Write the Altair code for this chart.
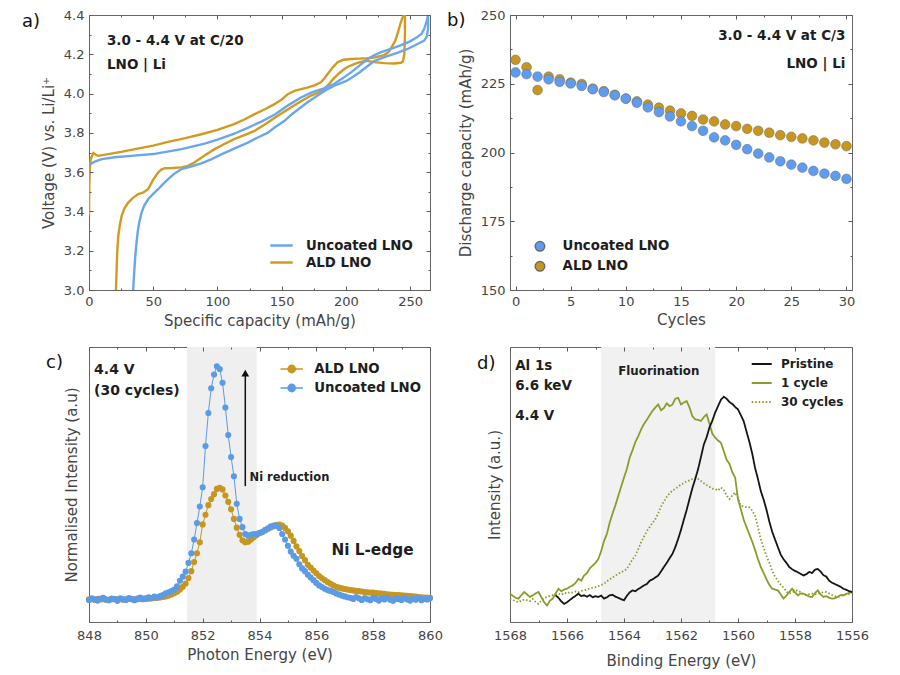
import altair as alt
import pandas as pd

FONT = "DejaVu Sans"
TXT = "#1e1e1e"
LAB = "#454545"
TICKC = "#5a5a5a"

BLUE_A, GOLD_A = "#6aa6ee", "#d29b1f"
BLUE_B, GOLD_B = "#5d9cf0", "#c8951d"
BLUE_C, GOLD_C = "#5b9be6", "#c8961f"
BLACK_D, OLIVE_D = "#151515", "#8d9b2a"

# ---------------- panel a: voltage profiles ----------------
A_SERIES = ["Uncoated LNO", "ALD LNO"]
UC_CAP = [0, 2, 5, 10, 20, 35, 50, 72, 90, 100, 112, 124, 135, 145, 155, 165, 173, 181, 191, 198,
          204, 211, 217, 222, 227, 235, 243, 250, 255, 259, 261, 263, 264]
UC_V = [3.632, 3.645, 3.655, 3.666, 3.676, 3.684, 3.692, 3.717, 3.745, 3.765, 3.793, 3.827, 3.860,
        3.895, 3.940, 3.980, 4.005, 4.022, 4.050, 4.080, 4.108, 4.145, 4.176, 4.195, 4.210, 4.228,
        4.247, 4.266, 4.285, 4.305, 4.330, 4.370, 4.400]
UD_CAP = [264, 264, 263, 261, 255, 248, 240, 230, 222, 217, 211, 206.5, 200, 191, 185, 178, 171, 165,
          158, 152, 145, 139, 131, 123.7, 113, 103, 95, 87.5, 80, 72, 66, 61.6, 57, 53.8, 50, 46, 43,
          40.9, 39, 38, 37, 36, 35.3, 34.8, 34.4]
UD_V = [4.400, 4.330, 4.290, 4.270, 4.250, 4.227, 4.207, 4.186, 4.165, 4.140, 4.110, 4.090, 4.063,
        4.040, 4.020, 3.990, 3.960, 3.930, 3.895, 3.860, 3.830, 3.800, 3.775, 3.750, 3.720, 3.690,
        3.665, 3.645, 3.630, 3.615, 3.590, 3.564, 3.535, 3.513, 3.490, 3.462, 3.430, 3.394, 3.340,
        3.300, 3.240, 3.170, 3.100, 3.050, 3.000]
AC_CAP = [0, 0.3, 0.8, 1.5, 3.4, 5, 7.2, 15, 25, 35.7, 50, 61.6, 75, 87.5, 100, 113, 121, 128.9, 137,
          144.4, 150, 154.8, 160, 165, 170, 176, 180.6, 183, 185.8, 190, 193.6, 198, 204, 210, 216.9,
          223, 229.8, 233, 236, 238.5, 240.5, 242.8, 244, 245.3]
AC_V = [3.38, 3.55, 3.64, 3.67, 3.697, 3.690, 3.683, 3.692, 3.703, 3.717, 3.735, 3.754, 3.773, 3.793,
        3.815, 3.844, 3.868, 3.895, 3.920, 3.946, 3.970, 3.997, 4.014, 4.023, 4.030, 4.043, 4.057,
        4.075, 4.100, 4.135, 4.160, 4.172, 4.176, 4.178, 4.180, 4.185, 4.196, 4.210, 4.240, 4.270,
        4.310, 4.363, 4.385, 4.400]
AD_CAP = [246, 246, 245.5, 244.5, 243, 237.6, 230, 222, 216, 211, 206.5, 202, 198.8, 195, 191, 187,
          183, 178, 172.9, 166, 160, 153, 147, 138, 128.9, 121, 113, 105, 97.8, 90, 82, 77, 72, 65,
          59, 56, 53.8, 50, 46, 42, 38.3, 34, 30.5, 27.5, 25.4, 24, 22.8, 22, 21.5, 21]
AD_V = [4.400, 4.300, 4.200, 4.165, 4.157, 4.153, 4.155, 4.160, 4.167, 4.160, 4.150, 4.138, 4.125,
        4.105, 4.080, 4.050, 4.020, 4.003, 3.990, 3.965, 3.940, 3.912, 3.887, 3.848, 3.810, 3.788,
        3.768, 3.742, 3.717, 3.685, 3.649, 3.632, 3.624, 3.621, 3.620, 3.612, 3.598, 3.562, 3.513,
        3.495, 3.488, 3.468, 3.445, 3.415, 3.377, 3.330, 3.275, 3.200, 3.100, 3.000]

# ---------------- panel b: cycling ----------------
B_SERIES = ["Uncoated LNO", "ALD LNO"]
B_CYC = [0, 1, 2, 3, 4, 5, 6, 7, 8, 9, 10, 11, 12, 13, 14, 15, 16, 17, 18, 19, 20, 21, 22, 23, 24,
         25, 26, 27, 28, 29, 30]
B_UNC = [229.1, 228.5, 227.6, 226.6, 225.7, 225.1, 224.2, 223.0, 222.0, 220.8, 219.6, 218.1, 216.4,
         214.7, 213.1, 211.3, 209.6, 207.9, 205.5, 204.4, 202.8, 201.2, 199.6, 198.2, 196.8, 195.6,
         194.5, 193.3, 192.3, 191.5, 190.4]
B_ALD = [233.7, 231.0, 222.7, 227.6, 226.6, 225.4, 224.9, 223.2, 222.3, 221.0, 219.6, 218.6, 217.4,
         216.3, 215.2, 214.2, 213.3, 212.0, 211.3, 210.2, 209.6, 208.6, 207.9, 207.2, 206.3, 205.7,
         205.1, 204.4, 203.6, 203.0, 202.3]

# ---------------- panel c: Ni L-edge ----------------
C_SERIES = ["ALD LNO", "Uncoated LNO"]
C_E = [848.0, 848.1, 848.2, 848.3, 848.4, 848.5, 848.6, 848.7, 848.8, 848.9,
       849.0, 849.1, 849.2, 849.3, 849.4, 849.5, 849.6, 849.7, 849.8, 849.9,
       850.0, 850.1, 850.2, 850.3, 850.4, 850.5, 850.6, 850.7, 850.8, 850.9,
       851.0, 851.1, 851.2, 851.3, 851.4, 851.5, 851.6, 851.7, 851.8, 851.9,
       852.0, 852.1, 852.2, 852.3, 852.4, 852.5, 852.6, 852.7, 852.8, 852.9,
       853.0, 853.1, 853.2, 853.3, 853.4, 853.5, 853.6, 853.7, 853.8, 853.9,
       854.0, 854.1, 854.2, 854.3, 854.4, 854.5, 854.6, 854.7, 854.8, 854.9,
       855.0, 855.1, 855.2, 855.3, 855.4, 855.5, 855.6, 855.7, 855.8, 855.9,
       856.0, 856.1, 856.2, 856.3, 856.4, 856.5, 856.6, 856.7, 856.8, 856.9,
       857.0, 857.1, 857.2, 857.3, 857.4, 857.5, 857.6, 857.7, 857.8, 857.9,
       858.0, 858.1, 858.2, 858.3, 858.4, 858.5, 858.6, 858.7, 858.8, 858.9,
       859.0, 859.1, 859.2, 859.3, 859.4, 859.5, 859.6, 859.7, 859.8, 859.9,
       860.0]
C_UNC = [0.080, 0.086, 0.082, 0.078, 0.084, 0.088, 0.081, 0.079, 0.085, 0.083,
         0.077, 0.086, 0.082, 0.080, 0.087, 0.084, 0.079, 0.085, 0.089, 0.083,
         0.086, 0.090, 0.087, 0.092, 0.089, 0.094, 0.098, 0.104, 0.108, 0.112,
         0.118, 0.130, 0.150, 0.165, 0.183, 0.215, 0.250, 0.300, 0.360, 0.420,
         0.490, 0.640, 0.760, 0.850, 0.900, 0.930, 0.920, 0.870, 0.780, 0.680,
         0.600, 0.530, 0.430, 0.375, 0.345, 0.320, 0.314, 0.317, 0.320, 0.320,
         0.324, 0.327, 0.334, 0.341, 0.348, 0.351, 0.350, 0.342, 0.320, 0.300,
         0.277, 0.256, 0.241, 0.230, 0.210, 0.195, 0.185, 0.172, 0.162, 0.152,
         0.142, 0.133, 0.127, 0.121, 0.116, 0.113, 0.109, 0.104, 0.100, 0.096,
         0.093, 0.090, 0.088, 0.084, 0.091, 0.086, 0.080, 0.087, 0.083, 0.079,
         0.088, 0.084, 0.078, 0.086, 0.082, 0.089, 0.081, 0.077, 0.085, 0.083,
         0.080, 0.087, 0.082, 0.078, 0.085, 0.081, 0.088, 0.079, 0.084, 0.082,
         0.086]
C_ALD = [0.082, 0.083, 0.081, 0.084, 0.082, 0.083, 0.082, 0.081, 0.083, 0.084,
         0.082, 0.083, 0.081, 0.082, 0.084, 0.083, 0.082, 0.083, 0.084, 0.085,
         0.084, 0.085, 0.086, 0.087, 0.088, 0.089, 0.091, 0.093, 0.096, 0.100,
         0.105, 0.110, 0.118, 0.128, 0.140, 0.160, 0.185, 0.218, 0.250, 0.290,
         0.355, 0.390, 0.425, 0.447, 0.465, 0.484, 0.488, 0.482, 0.460, 0.437,
         0.410, 0.375, 0.343, 0.317, 0.297, 0.290, 0.292, 0.300, 0.308, 0.316,
         0.323, 0.328, 0.334, 0.339, 0.344, 0.348, 0.353, 0.354, 0.351, 0.342,
         0.330, 0.314, 0.295, 0.275, 0.258, 0.240, 0.225, 0.208, 0.198, 0.187,
         0.177, 0.167, 0.159, 0.152, 0.145, 0.139, 0.133, 0.128, 0.125, 0.122,
         0.120, 0.118, 0.116, 0.115, 0.113, 0.112, 0.111, 0.109, 0.108, 0.107,
         0.107, 0.105, 0.104, 0.103, 0.102, 0.101, 0.100, 0.099, 0.098, 0.098,
         0.097, 0.096, 0.095, 0.094, 0.093, 0.092, 0.091, 0.090, 0.089, 0.089,
         0.088]
C_SHADE = [851.45, 853.9]
C_ARROW = [853.5, 0.494, 0.905]

# ---------------- panel d: Al 1s ----------------
D_SERIES = ["Pristine", "1 cycle", "30 cycles"]
D_E = [1568.0, 1567.9, 1567.8, 1567.7, 1567.6, 1567.5, 1567.4, 1567.3, 1567.2, 1567.1,
       1567.0, 1566.9, 1566.8, 1566.7, 1566.6, 1566.5, 1566.4, 1566.3, 1566.2, 1566.1,
       1566.0, 1565.9, 1565.8, 1565.7, 1565.6, 1565.5, 1565.4, 1565.3, 1565.2, 1565.1,
       1565.0, 1564.9, 1564.8, 1564.7, 1564.6, 1564.5, 1564.4, 1564.3, 1564.2, 1564.1,
       1564.0, 1563.9, 1563.8, 1563.7, 1563.6, 1563.5, 1563.4, 1563.3, 1563.2, 1563.1,
       1563.0, 1562.9, 1562.8, 1562.7, 1562.6, 1562.5, 1562.4, 1562.3, 1562.2, 1562.1,
       1562.0, 1561.9, 1561.8, 1561.7, 1561.6, 1561.5, 1561.4, 1561.3, 1561.2, 1561.1,
       1561.0, 1560.9, 1560.8, 1560.7, 1560.6, 1560.5, 1560.4, 1560.3, 1560.2, 1560.1,
       1560.0, 1559.9, 1559.8, 1559.7, 1559.6, 1559.5, 1559.4, 1559.3, 1559.2, 1559.1,
       1559.0, 1558.9, 1558.8, 1558.7, 1558.6, 1558.5, 1558.4, 1558.3, 1558.2, 1558.1,
       1558.0, 1557.9, 1557.8, 1557.7, 1557.6, 1557.5, 1557.4, 1557.3, 1557.2, 1557.1,
       1557.0, 1556.9, 1556.8, 1556.7, 1556.6, 1556.5, 1556.4, 1556.3, 1556.2, 1556.1,
       1556.0]
D_PRI = [0.097, 0.088, 0.075, 0.066, 0.072, 0.080, 0.088, 0.095, 0.103, 0.094,
         0.097, 0.092, 0.098, 0.090, 0.094, 0.091, 0.096, 0.085, 0.090, 0.097,
         0.099, 0.092, 0.088, 0.083, 0.079, 0.095, 0.108, 0.115, 0.112, 0.120,
         0.126, 0.133, 0.138, 0.150, 0.155, 0.162, 0.169, 0.184, 0.200, 0.215,
         0.232, 0.248, 0.272, 0.302, 0.335, 0.372, 0.408, 0.448, 0.487, 0.520,
         0.556, 0.600, 0.645, 0.672, 0.708, 0.732, 0.762, 0.785, 0.808, 0.819,
         0.812, 0.800, 0.793, 0.782, 0.773, 0.752, 0.730, 0.692, 0.655, 0.612,
         0.560, 0.520, 0.476, 0.445, 0.408, 0.365, 0.328, 0.300, 0.272, 0.245,
         0.228, 0.215, 0.200, 0.192, 0.186, 0.181, 0.175, 0.169, 0.174, 0.182,
         0.178, 0.190, 0.193, 0.183, 0.170, 0.165, 0.150, 0.143, 0.138, 0.133,
         0.128, 0.121, 0.117, 0.112, 0.109]
D_1CY = [0.103, 0.095, 0.088, 0.085, 0.098, 0.109, 0.100, 0.091, 0.097, 0.104,
         0.109, 0.090, 0.072, 0.060, 0.078, 0.085, 0.104, 0.121, 0.112, 0.118,
         0.121, 0.128, 0.133, 0.142, 0.157, 0.150, 0.169, 0.178, 0.195, 0.205,
         0.215, 0.229, 0.258, 0.295, 0.320, 0.362, 0.395, 0.425, 0.459, 0.492,
         0.525, 0.556, 0.598, 0.625, 0.655, 0.676, 0.700, 0.720, 0.735, 0.752,
         0.768, 0.780, 0.791, 0.770, 0.778, 0.795, 0.785, 0.791, 0.812, 0.815,
         0.791, 0.798, 0.803, 0.780, 0.748, 0.737, 0.735, 0.731, 0.745, 0.755,
         0.720, 0.685, 0.670, 0.660, 0.652, 0.622, 0.590, 0.575, 0.545, 0.525,
         0.447, 0.410, 0.372, 0.345, 0.318, 0.292, 0.262, 0.229, 0.200, 0.178,
         0.155, 0.135, 0.121, 0.118, 0.115, 0.100, 0.085, 0.096, 0.110, 0.121,
         0.108, 0.097, 0.104, 0.103, 0.098, 0.092, 0.091, 0.105, 0.115, 0.100,
         0.091, 0.094, 0.088, 0.085, 0.086, 0.092, 0.098, 0.097, 0.102, 0.106,
         0.109]
D_30CY = [0.085, 0.080, 0.075, 0.072, 0.078, 0.082, 0.079, 0.076, 0.084, 0.072,
          0.066, 0.078, 0.086, 0.091, 0.095, 0.098, 0.101, 0.103, 0.099, 0.106,
          0.104, 0.109, 0.107, 0.111, 0.108, 0.113, 0.115, 0.118, 0.122, 0.125,
          0.127, 0.130, 0.135, 0.139, 0.148, 0.155, 0.162, 0.169, 0.176, 0.181,
          0.186, 0.193, 0.210, 0.228, 0.242, 0.265, 0.290, 0.310, 0.330, 0.345,
          0.360, 0.374, 0.395, 0.420, 0.438, 0.455, 0.468, 0.478, 0.484, 0.492,
          0.500, 0.505, 0.512, 0.515, 0.520, 0.525, 0.520, 0.513, 0.505, 0.498,
          0.492, 0.485, 0.483, 0.478, 0.489, 0.480, 0.460, 0.447, 0.460, 0.471,
          0.450, 0.423, 0.420, 0.418, 0.417, 0.405, 0.386, 0.345, 0.302, 0.270,
          0.240, 0.215, 0.185, 0.165, 0.150, 0.135, 0.125, 0.110, 0.103, 0.108,
          0.112, 0.115, 0.108, 0.100, 0.097, 0.101, 0.104, 0.100, 0.103, 0.106,
          0.108, 0.109, 0.104, 0.098, 0.094, 0.091, 0.095, 0.099, 0.101, 0.102,
          0.103]
D_SHADE = [1564.8, 1560.8]

# ---------------- helpers ----------------
LINE22 = "M-1.4,0H1.4"
LINE20 = "M-1.25,0H1.25"
LINE_DOT = ("M-1.4,0H1.4"
            "M0.45,0A0.45,0.45,0,1,1,-0.45,0A0.45,0.45,0,1,1,0.45,0"
            "M0.3,0A0.3,0.3,0,1,1,-0.3,0A0.3,0.3,0,1,1,0.3,0"
            "M0.15,0A0.15,0.15,0,1,1,-0.15,0A0.15,0.15,0,1,1,0.15,0"
            "M0.05,0A0.05,0.05,0,1,1,-0.05,0A0.05,0.05,0,1,1,0.05,0")

LABEL_SIZE = 13
TITLE_SIZE = 15


def ax(orient, values, size=4, labels=False, title=None, fmt=None, lpad=5, tpad=6):
    kw = dict(orient=orient, values=values, tickSize=size, offset=-size, domain=False, grid=False,
              labels=labels, ticks=True, tickColor=TICKC, tickWidth=1, labelFlush=False, zindex=1,
              labelFont=FONT, labelFontSize=LABEL_SIZE, labelColor=LAB, labelPadding=lpad,
              titleFont=FONT, titleFontSize=TITLE_SIZE, titleColor=LAB, titleFontWeight="normal",
              titlePadding=tpad, title=title)
    if fmt:
        kw["format"] = fmt
    return alt.Axis(**kw)


def title_axis(title, tpad):
    return alt.Axis(orient="left", ticks=False, labels=False, domain=False, grid=False, title=title,
                    titleFont=FONT, titleFontSize=TITLE_SIZE, titleColor=LAB,
                    titleFontWeight="normal", titlePadding=tpad)


def tick_layers(df, xf, yf, xs, ys, xmaj, xmin, ymaj=None, ymin=None):
    out = []
    for xo, yo, xv, yv, sz in [("bottom", "left", xmin, ymin, 2), ("top", "right", xmaj, ymaj, 4),
                               ("top", "right", xmin, ymin, 2)]:
        out.append(alt.Chart(df).mark_point(opacity=0).encode(
            x=alt.X(xf, scale=xs, axis=ax(xo, xv, sz)),
            y=alt.Y(yf, scale=ys, axis=ax(yo, yv, sz) if yv else None)))
    return out


def notes(xs, ys, texts, xsc, ysc, size, align="left"):
    return alt.Chart(pd.DataFrame({"x": xs, "y": ys, "t": texts})).mark_text(
        align=align, baseline="middle", font=FONT, fontSize=size, fontWeight="bold", color=TXT
    ).encode(x=alt.X("x:Q", scale=xsc, axis=None), y=alt.Y("y:Q", scale=ysc, axis=None), text="t:N")


def panel_label(txt, dx, dy):
    return alt.Chart(pd.DataFrame({"t": [txt]})).mark_text(
        align="left", baseline="top", font=FONT, fontSize=18, color="#111111"
    ).encode(text="t:N", x=alt.value(dx), y=alt.value(dy))


def leg(x, y, stype, ssize, loff, rpad, fsize=13.3, sw=None):
    kw = dict(orient="none", legendX=x, legendY=y, title=None, symbolType=stype, symbolSize=ssize,
              labelFont=FONT, labelFontSize=fsize, labelFontWeight="bold", labelColor=TXT,
              labelOffset=loff, rowPadding=rpad, padding=0)
    if sw:
        kw["symbolStrokeWidth"] = sw
    return alt.Legend(**kw)


# ---------------- panel a ----------------
rows = []
for s, cv, caps, vs in [("ALD LNO", "ald_ch", AC_CAP, AC_V), ("ALD LNO", "ald_dis", AD_CAP, AD_V),
                        ("Uncoated LNO", "unc_ch", UC_CAP, UC_V), ("Uncoated LNO", "unc_dis", UD_CAP, UD_V)]:
    for i, (c, v) in enumerate(zip(caps, vs)):
        rows.append({"cap": c, "volt": v, "sample": s, "curve": cv, "idx": i})
dfa = pd.DataFrame(rows)
xa = alt.Scale(domain=[0, 265.5], nice=False, zero=False)
ya = alt.Scale(domain=[3.0, 4.4], nice=False, zero=False)
la = alt.Chart(dfa).mark_line(strokeWidth=2.4, clip=True).encode(
    x=alt.X("cap:Q", scale=xa, axis=ax("bottom", [0, 50, 100, 150, 200, 250], 4, True,
                                       "Specific capacity (mAh/g)", lpad=5, tpad=5)),
    y=alt.Y("volt:Q", scale=ya, axis=ax("left", [3.0, 3.2, 3.4, 3.6, 3.8, 4.0, 4.2, 4.4], 4, True,
                                        "Voltage (V) vs. Li/Li\u207a", fmt=".1f", lpad=5, tpad=7)),
    color=alt.Color("sample:N", scale=alt.Scale(domain=A_SERIES, range=[BLUE_A, GOLD_A]),
                    legend=leg(183, 221, LINE22, 256, 15, 1, 13.3, 2.5)),
    detail="curve:N", order="idx:Q")
pa = alt.layer(
    *tick_layers(dfa.iloc[:1], "cap:Q", "volt:Q", xa, ya, [0, 50, 100, 150, 200, 250],
                 [25, 75, 125, 175, 225], [3.0, 3.2, 3.4, 3.6, 3.8, 4.0, 4.2, 4.4],
                 [3.1, 3.3, 3.5, 3.7, 3.9, 4.1, 4.3]),
    la,
    notes([14, 14], [4.27, 4.145], ["3.0 - 4.4 V at C/20", "LNO | Li"], xa, ya, 13.5),
    panel_label("a)", -67, -2),
).resolve_axis(x="independent", y="independent").properties(width=341, height=275)

# ---------------- panel b ----------------
dfb = pd.DataFrame({"cyc": B_CYC + B_CYC, "cap": B_ALD + B_UNC,
                    "sample": ["ALD LNO"] * len(B_CYC) + ["Uncoated LNO"] * len(B_CYC)})
xb = alt.Scale(domain=[-0.5, 30.5], nice=False, zero=False)
yb = alt.Scale(domain=[150, 250], nice=False, zero=False)
pb_pts = alt.Chart(dfb).mark_point(filled=True, size=95, stroke="#6a6a6a", strokeWidth=0.5,
                                   opacity=1).encode(
    x=alt.X("cyc:Q", scale=xb, axis=ax("bottom", [0, 5, 10, 15, 20, 25, 30], 4, True, "Cycles",
                                       lpad=5, tpad=4)),
    y=alt.Y("cap:Q", scale=yb, axis=ax("left", [150, 175, 200, 225, 250], 4, True,
                                       "Discharge capacity (mAh/g)", lpad=5, tpad=7)),
    fill=alt.Fill("sample:N", scale=alt.Scale(domain=B_SERIES, range=[BLUE_B, GOLD_B]),
                  legend=leg(23.3, 224.7, "circle", 90, 16, 3)))
pb = alt.layer(
    *tick_layers(dfb.iloc[:1], "cyc:Q", "cap:Q", xb, yb, [0, 5, 10, 15, 20, 25, 30],
                 [2.5, 7.5, 12.5, 17.5, 22.5, 27.5], [150, 175, 200, 225, 250],
                 [162.5, 187.5, 212.5, 237.5]),
    pb_pts,
    notes([29.9, 29.9], [242.4, 232.3], ["3.0 - 4.4 V at C/3", "LNO | Li"], xb, yb, 13.5, "right"),
    panel_label("b)", -63, -3),
).resolve_axis(x="independent", y="independent").properties(width=342, height=275)

# ---------------- panel c ----------------
dfc = pd.DataFrame({"e": C_E + C_E, "v": C_ALD + C_UNC,
                    "s": ["ALD LNO"] * len(C_E) + ["Uncoated LNO"] * len(C_E),
                    "idx": list(range(len(C_E))) * 2})
xc = alt.Scale(domain=[848, 860], nice=False, zero=False)
yc = alt.Scale(domain=[0, 1], nice=False, zero=False)
cs = alt.Scale(domain=C_SERIES, range=[GOLD_C, BLUE_C])
lc = leg(193.7, 13, LINE_DOT, 256, 13.6, 3, 13.3, 1.6)
shade_c = alt.Chart(pd.DataFrame({"x0": [C_SHADE[0]], "x1": [C_SHADE[1]]})).mark_rect(
    color="#efefef").encode(x=alt.X("x0:Q", scale=xc, axis=None), x2="x1:Q")
line_c = alt.Chart(dfc).mark_line(strokeWidth=1).encode(
    x=alt.X("e:Q", scale=xc, axis=ax("bottom", [848, 850, 852, 854, 856, 858, 860], 4, True,
                                     "Photon Energy (eV)", fmt="d", lpad=7, tpad=5)),
    y=alt.Y("v:Q", scale=yc, axis=title_axis("Normalised Intensity (a.u)", 10)),
    color=alt.Color("s:N", scale=cs, legend=lc), order="idx:Q")
pts_c = alt.Chart(dfc).mark_point(filled=True, size=38, opacity=1).encode(
    x=alt.X("e:Q", scale=xc, axis=None), y=alt.Y("v:Q", scale=yc, axis=None),
    color=alt.Color("s:N", scale=cs, legend=lc))
arr_df = pd.DataFrame({"x": [C_ARROW[0]], "y0": [C_ARROW[1]], "y1": [C_ARROW[2]]})
arrow = alt.Chart(arr_df).mark_rule(color="#111111", strokeWidth=1.5).encode(
    x=alt.X("x:Q", scale=xc, axis=None), y=alt.Y("y0:Q", scale=yc, axis=None), y2="y1:Q")
head = alt.Chart(arr_df).mark_point(shape="triangle-up", filled=True, size=60, color="#111111",
                                    opacity=1).encode(
    x=alt.X("x:Q", scale=xc, axis=None), y=alt.Y("y1:Q", scale=yc, axis=None))
pc = alt.layer(
    shade_c,
    *tick_layers(dfc.iloc[:1], "e:Q", "v:Q", xc, yc, [848, 850, 852, 854, 856, 858, 860],
                 [849, 851, 853, 855, 857, 859]),
    line_c, pts_c, arrow, head,
    notes([848.18, 848.18], [0.915, 0.839], ["4.4 V", "(30 cycles)"], xc, yc, 14),
    notes([853.65], [0.522], ["Ni reduction"], xc, yc, 11.5),
    notes([856.53], [0.262], ["Ni L-edge"], xc, yc, 15.3),
    panel_label("c)", -43, 7),
).resolve_axis(x="independent", y="independent").properties(width=341, height=275)

# ---------------- panel d ----------------
dfd = pd.DataFrame({
    "e": D_E + D_E + D_E[16:],
    "v": D_1CY + D_30CY + D_PRI,
    "s": ["1 cycle"] * len(D_E) + ["30 cycles"] * len(D_E) + ["Pristine"] * len(D_PRI),
    "idx": list(range(len(D_E))) * 2 + list(range(len(D_PRI)))})
xd = alt.Scale(domain=[1556, 1568], reverse=True, nice=False, zero=False)
yd = alt.Scale(domain=[0, 1], nice=False, zero=False)
shade_d = alt.Chart(pd.DataFrame({"x0": [D_SHADE[0]], "x1": [D_SHADE[1]]})).mark_rect(
    color="#f1f1f1").encode(x=alt.X("x0:Q", scale=xd, axis=None), x2="x1:Q")
ld = leg(242.7, 8, LINE20, 256, 10.3, 4, 12, 1.8)
line_d = alt.Chart(dfd).mark_line(strokeWidth=1.8).encode(
    x=alt.X("e:Q", scale=xd, axis=ax("bottom", [1568, 1566, 1564, 1562, 1560, 1558, 1556], 4, True,
                                     "Binding Energy (eV)", fmt="d", lpad=7, tpad=11)),
    y=alt.Y("v:Q", scale=yd, axis=title_axis("Intensity (a.u.)", 8)),
    color=alt.Color("s:N", scale=alt.Scale(domain=D_SERIES, range=[BLACK_D, OLIVE_D, OLIVE_D]),
                    legend=ld),
    strokeDash=alt.StrokeDash("s:N", scale=alt.Scale(domain=D_SERIES,
                                                     range=[[1, 0], [1, 0], [1.5, 2]]), legend=ld),
    order="idx:Q")
pdd = alt.layer(
    shade_d,
    *tick_layers(dfd.iloc[:1], "e:Q", "v:Q", xd, yd, [1568, 1566, 1564, 1562, 1560, 1558, 1556],
                 [1567, 1565, 1563, 1561, 1559, 1557]),
    line_d,
    notes([1567.82, 1567.82, 1567.82], [0.932, 0.857, 0.749], ["Al 1s", "6.6 keV", "4.4 V"],
          xd, yd, 13.5),
    notes([1562.78], [0.912], ["Fluorination"], xd, yd, 11.8, "center"),
    panel_label("d)", -33, 8),
).resolve_axis(x="independent", y="independent").properties(width=342, height=275)

chart = alt.concat(pa, pb, pc, pdd, columns=2, spacing={"row": 57, "column": 80}, bounds="flush"
                   ).resolve_scale(color="independent", fill="independent", stroke="independent",
                                   strokeDash="independent"
                   ).properties(padding={"left": 13, "top": 0, "right": 4, "bottom": 0}
                   ).configure_view(stroke="#666666", strokeWidth=1)

chart.save("out.html", embed_options={"renderer": "svg", "actions": False})
